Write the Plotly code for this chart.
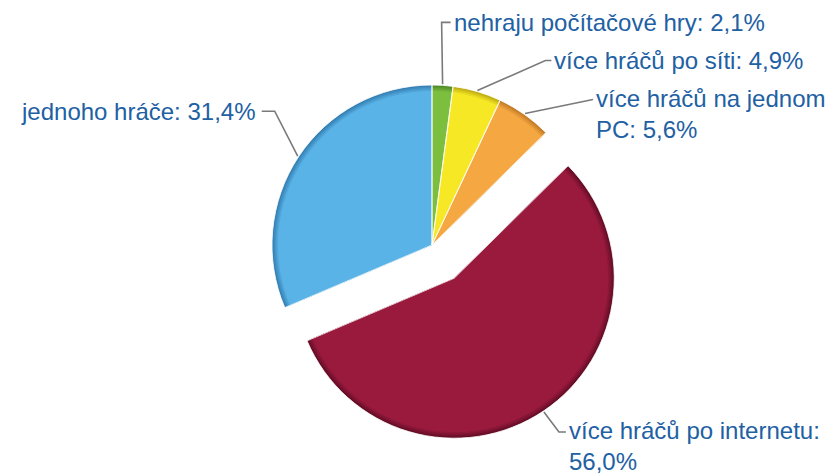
import math
import plotly.graph_objects as go

# ---- data ----
categories = ["nehraju počítačové hry", "více hráčů po síti", "více hráčů na jednom PC",
              "více hráčů po internetu", "jednoho hráče"]
values = [2.1, 4.9, 5.6, 56.0, 31.4]

# ---- style ----
colors = ["#7cbf3e", "#f6e824", "#f5a842", "#9a1a3e", "#5ab3e7"]
colors_rim = ["#4f8a26", "#bfae14", "#c27a26", "#640d26", "#347fb2"]
pulls = [0, 0, 0, 0.25, 0]
W, H = 826, 466          # page body has an 8px margin in the 834x474 window
CX, CY, R = 424, 237, 160
FONT = "Liberation Sans"
FSIZE = 24
TXT_COLOR = "#2160a3"
LINE_COLOR = "#7a7a7a"
# elbow offsets of leader lines from slice anchor (px), tick length, label side, wrap
elbow = [(-1, -62), (68, -30), (65, -14), (15, 20), (-23, -45)]
ticks = [9, 6, 3, 7, 13]
side = ["right", "right", "right", "right", "left"]
wrap_after = [None, None, "jednom ", ": ", None]
RIM_STEPS = 4
RIM_WIDTH = 6.0


def mix(c1, c2, t):
    a = [int(c1[k:k + 2], 16) for k in (1, 3, 5)]
    b = [int(c2[k:k + 2], 16) for k in (1, 3, 5)]
    return "#" + "".join(f"{round(x + (y - x) * t):02x}" for x, y in zip(a, b))


maxpull = max(pulls)
fig = go.Figure()


def pie_layer(r_k, cols, line):
    pull_k = [p * R / r_k for p in pulls]
    half = r_k + maxpull * R
    fig.add_trace(go.Pie(
        labels=categories, values=values, sort=False, direction="clockwise", rotation=0,
        pull=pull_k, marker=dict(colors=cols, line=line),
        textinfo="none", hoverinfo="label+percent",
        domain=dict(x=[(CX - half) / W, (CX + half) / W],
                    y=[(H - CY - half) / H, (H - CY + half) / H]),
        showlegend=False,
    ))


# layered pies: darker rim underneath, normal colour on top (soft edge shading)
for s in range(RIM_STEPS + 1):
    t = s / RIM_STEPS
    pie_layer(R - RIM_WIDTH * t, [mix(cr, c, t) for cr, c in zip(colors_rim, colors)],
              dict(width=0))
# thin white separators between slices
pie_layer(R, ["rgba(0,0,0,0)"] * len(values), dict(color="rgba(255,255,255,0.8)", width=1))

total = sum(values)
cum = 0.0
annotations = []
for i, (name, v) in enumerate(zip(categories, values)):
    mid = math.radians((cum + v / 2) / total * 360)
    cum += v
    cx = CX + pulls[i] * R * math.sin(mid)
    cy = CY - pulls[i] * R * math.cos(mid)
    ax = cx + (R + 1) * math.sin(mid)
    ay = cy - (R + 1) * math.cos(mid)
    ex, ey = ax + elbow[i][0], ay + elbow[i][1]
    sgn = 1 if side[i] == "right" else -1
    tx = ex + sgn * ticks[i]
    fig.add_trace(go.Scatter(x=[ax, ex, tx], y=[ay, ey, ey], mode="lines",
                             line=dict(color=LINE_COLOR, width=1.6),
                             hoverinfo="skip", showlegend=False))
    txt = f"{name}: {v:.1f}".replace(".", ",") + "%"
    if wrap_after[i]:
        w = wrap_after[i]
        txt = txt.replace(w, w.rstrip() + "<br>", 1)
    nlines = txt.count("<br>") + 1
    annotations.append(dict(
        x=tx + sgn * (1 if sgn > 0 else 4), y=ey, xref="x", yref="y", text=txt,
        showarrow=False, xanchor="left" if sgn > 0 else "right", yanchor="middle",
        align="left", yshift=-(nlines - 1) * FSIZE * 1.2 / 2,
        font=dict(family=FONT, size=FSIZE, color=TXT_COLOR),
    ))

fig.update_layout(
    width=W, height=H, margin=dict(l=0, r=0, t=0, b=0),
    paper_bgcolor="white", plot_bgcolor="rgba(0,0,0,0)",
    xaxis=dict(range=[0, W], visible=False, fixedrange=True),
    yaxis=dict(range=[H, 0], visible=False, fixedrange=True),
    annotations=annotations, showlegend=False,
)
fig.write_html("out.html")
